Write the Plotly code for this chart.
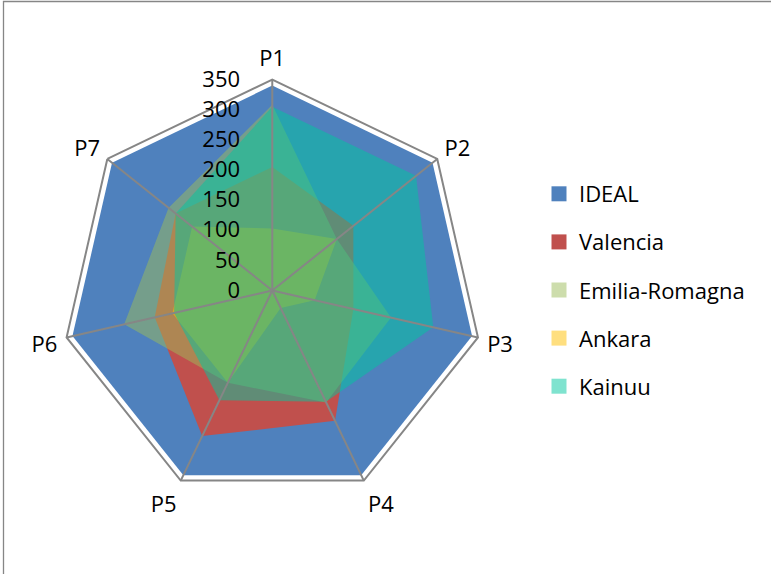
import plotly.graph_objects as go

# Spoke categories and series scores
categories = ["P1", "P2", "P3", "P4", "P5", "P6", "P7"]
ideal = [340, 340, 340, 340, 340, 340, 340]
valencia = [205, 172, 138, 240, 268, 200, 205]
emilia_romagna = [308, 137, 202, 206, 170, 252, 220]
ankara = [103, 137, 72, 32, 170, 170, 170]
kainuu = [305, 305, 274, 205, 202, 167, 205]
radial_ticks = [0, 50, 100, 150, 200, 250, 300, 350]

series = [
    ("IDEAL", ideal, "#4F81BD"),
    ("Valencia", valencia, "#C0504D"),
    ("Emilia-Romagna", emilia_romagna, "rgba(155,187,89,0.5)"),
    ("Ankara", ankara, "rgba(255,192,0,0.5)"),
    ("Kainuu", kainuu, "rgba(0,200,160,0.5)"),
]

FONT = "Open Sans"
GRID = "#868686"

fig = go.Figure()

# Filled areas, drawn in order so later series sit on top
for name, values, color in series:
    fig.add_trace(go.Scatterpolar(
        r=values + values[:1],
        theta=categories + categories[:1],
        mode="lines",
        fill="toself",
        fillcolor=color,
        line=dict(width=0, color=color),
        name=name,
        legendgroup=name,
        showlegend=False,
        hoverinfo="skip",
    ))

# Spokes from the centre to the outer ring, above the fills
r_max = radial_ticks[-1]
spoke_r, spoke_theta = [], []
for c in categories:
    spoke_r += [0, r_max, None]
    spoke_theta += [c, c, None]
fig.add_trace(go.Scatterpolar(
    r=spoke_r, theta=spoke_theta, mode="lines",
    line=dict(color=GRID, width=2),
    showlegend=False, hoverinfo="skip", connectgaps=False,
))

# Square legend swatches
for name, values, color in series:
    fig.add_trace(go.Scatterpolar(
        r=[None], theta=[None], mode="markers",
        marker=dict(symbol="square", size=15, color=color, line=dict(width=0)),
        name=name, legendgroup=name, showlegend=True,
    ))

fig.update_layout(
    width=771, height=574,
    margin=dict(l=0, r=0, t=0, b=0),
    paper_bgcolor="white",
    font=dict(family=FONT, size=22, color="black"),
    polar=dict(
        domain=dict(x=[0.0795, 0.6268], y=[0.1263, 0.8615]),
        bgcolor="white",
        gridshape="linear",
        angularaxis=dict(
            direction="clockwise", rotation=90,
            type="category", categoryarray=categories,
            showgrid=False, showline=True, linecolor=GRID, linewidth=2,
            ticks="outside", ticklen=4, tickcolor="rgba(0,0,0,0)",
            tickfont=dict(family=FONT, size=22, color="black"),
            layer="above traces",
        ),
        radialaxis=dict(
            range=[0, r_max], angle=90, tickangle=90,
            tickvals=radial_ticks, side="counterclockwise",
            showgrid=False, showline=False,
            ticks="outside", ticklen=24, tickcolor="rgba(0,0,0,0)",
            tickfont=dict(family=FONT, size=22, color="black"),
            layer="above traces",
        ),
    ),
    legend=dict(
        x=539 / 771, xanchor="left",
        y=1 - 173 / 574, yanchor="top",
        font=dict(family=FONT, size=22, color="black"),
        tracegroupgap=16.5,
        bgcolor="rgba(0,0,0,0)",
    ),
    shapes=[dict(
        type="rect", xref="paper", yref="paper",
        x0=3.5 / 771, x1=1.2, y0=-0.2, y1=1 - 1.5 / 574,
        line=dict(color=GRID, width=1.3), fillcolor="rgba(0,0,0,0)",
        layer="above",
    )],
)

fig.write_html("out.html")
